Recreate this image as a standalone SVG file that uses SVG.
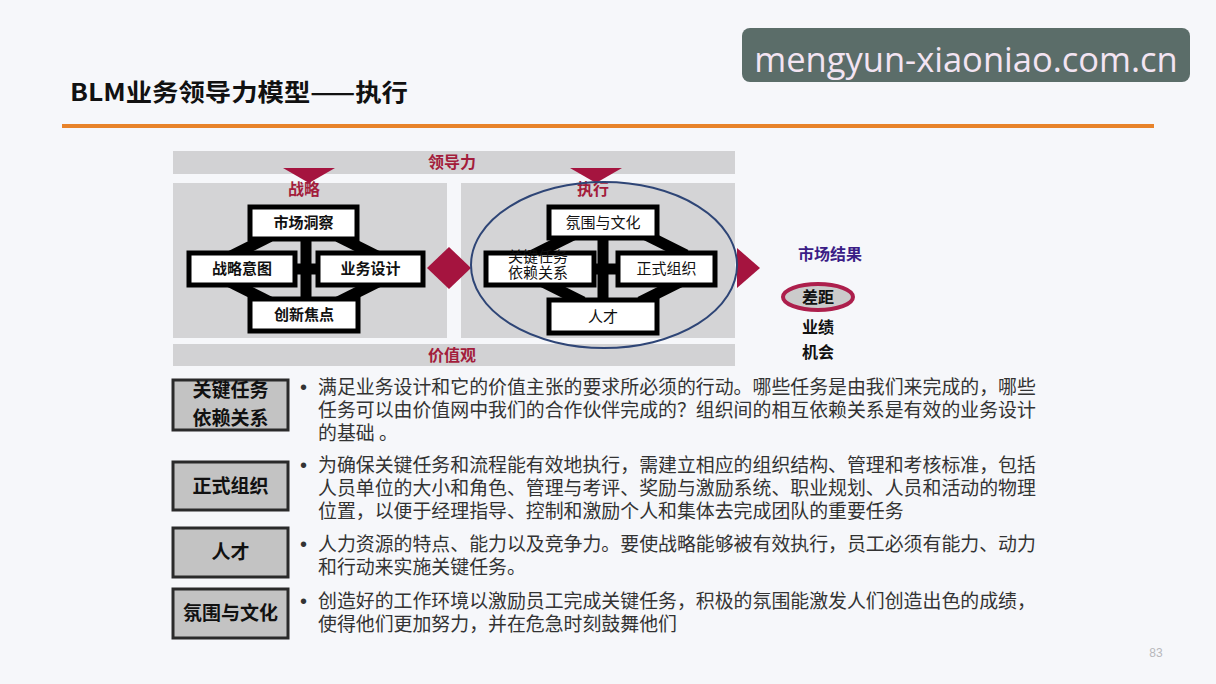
<svg xmlns="http://www.w3.org/2000/svg" width="1216" height="684" viewBox="0 0 1216 684">
<defs>
<style>
text{font-family:"Noto Sans CJK SC","Noto Sans",sans-serif;}
.band{fill:#d2d2d4;}
.panel{fill:#d4d4d6;}
.red{fill:#a5143f;}
.redtxt{fill:#a31d3c;font-weight:bold;font-size:16px;text-anchor:middle;}
.box{fill:#ffffff;stroke:#000;stroke-width:5;}
.btxt{font-size:15px;text-anchor:middle;fill:#111;}
.bold{font-weight:bold;}
.bar{stroke:#000;stroke-width:11;fill:none;}
.lbl{fill:#c3c3c3;stroke:#2a2a2a;stroke-width:3;}
.ltxt{font-size:19px;font-weight:bold;text-anchor:middle;fill:#111;}
.para{font-size:18.9px;fill:#333;}
.dot{font-size:20px;fill:#333;font-family:"Liberation Sans",sans-serif;}
.res{font-size:16px;font-weight:bold;text-anchor:middle;fill:#111;}
</style>
</defs>
<rect x="0" y="0" width="1216" height="684" fill="#f6f7fa"/>

<g id="watermark">
<rect x="742" y="28" width="448" height="54" rx="8" fill="#5b6d69"/>
<text x="966" y="72" font-size="34.5" fill="#f3e4f2" text-anchor="middle" style="font-family:'Open Sans','Noto Sans',sans-serif">mengyun-xiaoniao.com.cn</text>
</g>

<g id="title">
<text x="70" y="101" font-size="24" font-weight="bold" fill="#111" textLength="338" lengthAdjust="spacingAndGlyphs">BLM业务领导力模型——执行</text>
<rect x="62" y="124" width="1092" height="4" fill="#e8832a"/>
</g>

<g id="bands">
<rect class="band" x="173" y="151" width="562" height="23"/>
<text class="redtxt" x="452" y="168">领导力</text>
<rect class="band" x="173" y="344" width="562" height="22"/>
<text class="redtxt" x="452" y="361">价值观</text>
<rect class="panel" x="173" y="183" width="274" height="155"/>
<rect class="panel" x="461" y="183" width="274" height="155"/>
</g>

<g id="connectors">
<polygon class="red" points="283,168 335,168 309,183"/>
<polygon class="red" points="570,168 622,168 596,183"/>
<polygon class="red" points="427,268 449,247 471,268 449,289"/>
<polygon class="red" points="737,248 760,268 737,288"/>
<line class="bar" x1="306" y1="238" x2="306" y2="299"/>
<line class="bar" x1="295" y1="269" x2="318" y2="269"/>
<line class="bar" x1="270" y1="236.5" x2="230" y2="256.5"/>
<line class="bar" x1="338" y1="236.5" x2="378" y2="256.5"/>
<line class="bar" x1="230" y1="282" x2="270" y2="302"/>
<line class="bar" x1="378" y1="282" x2="338" y2="302"/>
<line class="bar" x1="603" y1="238" x2="603" y2="299"/>
<line class="bar" x1="594" y1="269" x2="619" y2="269"/>
<line class="bar" x1="573" y1="235" x2="533" y2="255"/>
<line class="bar" x1="646" y1="235" x2="686" y2="255"/>
<line class="bar" x1="543" y1="282" x2="583" y2="302"/>
<line class="bar" x1="680" y1="282" x2="640" y2="302"/>
</g>

<text class="redtxt" x="304" y="195">战略</text>
<text class="redtxt" x="593" y="195">执行</text>

<g id="node-market">
<rect class="box" x="250" y="207" width="107" height="32"/>
<text class="btxt bold" x="303.5" y="228">市场洞察</text>
</g>
<g id="node-intent">
<rect class="box" x="189" y="253" width="106" height="32"/>
<text class="btxt bold" x="242" y="274">战略意图</text>
</g>
<g id="node-design">
<rect class="box" x="318" y="253" width="105" height="32"/>
<text class="btxt bold" x="370.5" y="274">业务设计</text>
</g>
<g id="node-innovation">
<rect class="box" x="250" y="299" width="108" height="32"/>
<text class="btxt bold" x="304" y="320">创新焦点</text>
</g>

<g id="node-culture">
<rect class="box" x="549" y="207" width="108" height="31"/>
<text class="btxt" x="603" y="228">氛围与文化</text>
</g>
<g id="node-tasks">
<rect class="box" x="486" y="253" width="108" height="32"/>
<text class="btxt" x="538" y="262">关键任务<tspan x="538" dy="16">依赖关系</tspan></text>
</g>
<g id="node-org">
<rect class="box" x="618" y="253" width="97" height="32"/>
<text class="btxt" x="666.5" y="274">正式组织</text>
</g>
<g id="node-talent">
<rect class="box" x="549" y="300" width="108" height="33"/>
<text class="btxt" x="603" y="322">人才</text>
</g>

<g id="execution-ellipse">
<ellipse cx="604" cy="265" rx="133" ry="83" fill="none" stroke="#2e4576" stroke-width="2"/>
</g>

<g id="market-results">
<text x="830" y="260" font-size="16" font-weight="bold" fill="#3b1d86" text-anchor="middle">市场结果</text>
<ellipse cx="818" cy="297" rx="35" ry="13" fill="#cbcbcb" stroke="#ad1f4c" stroke-width="4"/>
<text class="res" x="818" y="303">差距</text>
<text class="res" x="818" y="333">业绩<tspan x="818" dy="25">机会</tspan></text>
</g>

<g id="label-tasks">
<rect class="lbl" x="173" y="380" width="115" height="50"/>
<text class="ltxt" x="230.5" y="397">关键任务<tspan x="230.5" dy="28">依赖关系</tspan></text>
</g>
<g id="label-org">
<rect class="lbl" x="173" y="462" width="115" height="48"/>
<text class="ltxt" x="230.5" y="493">正式组织</text>
</g>
<g id="label-talent">
<rect class="lbl" x="173" y="528" width="115" height="49"/>
<text class="ltxt" x="230.5" y="559">人才</text>
</g>
<g id="label-culture">
<rect class="lbl" x="173" y="589" width="115" height="49"/>
<text class="ltxt" x="230.5" y="620">氛围与文化</text>
</g>

<g id="descriptions">
<text class="dot" x="300" y="394">•</text>
<text class="para" x="318" y="394">满足业务设计和它的价值主张的要求所必须的行动。哪些任务是由我们来完成的，哪些<tspan x="318" dy="23">任务可以由价值网中我们的合作伙伴完成的？组织间的相互依赖关系是有效的业务设计</tspan><tspan x="318" dy="23">的基础 。</tspan></text>
<text class="dot" x="300" y="472">•</text>
<text class="para" x="318" y="472">为确保关键任务和流程能有效地执行，需建立相应的组织结构、管理和考核标准，包括<tspan x="318" dy="23">人员单位的大小和角色、管理与考评、奖励与激励系统、职业规划、人员和活动的物理</tspan><tspan x="318" dy="23">位置，以便于经理指导、控制和激励个人和集体去完成团队的重要任务</tspan></text>
<text class="dot" x="300" y="551">•</text>
<text class="para" x="318" y="551">人力资源的特点、能力以及竞争力。要使战略能够被有效执行，员工必须有能力、动力<tspan x="318" dy="23">和行动来实施关键任务。</tspan></text>
<text class="dot" x="300" y="608">•</text>
<text class="para" x="318" y="608">创造好的工作环境以激励员工完成关键任务，积极的氛围能激发人们创造出色的成绩，<tspan x="318" dy="23">使得他们更加努力，并在危急时刻鼓舞他们</tspan></text>
</g>

<text x="1156" y="657" font-size="12" fill="#b8b8bc" text-anchor="middle" style="font-family:'Liberation Sans',sans-serif">83</text>
</svg>
